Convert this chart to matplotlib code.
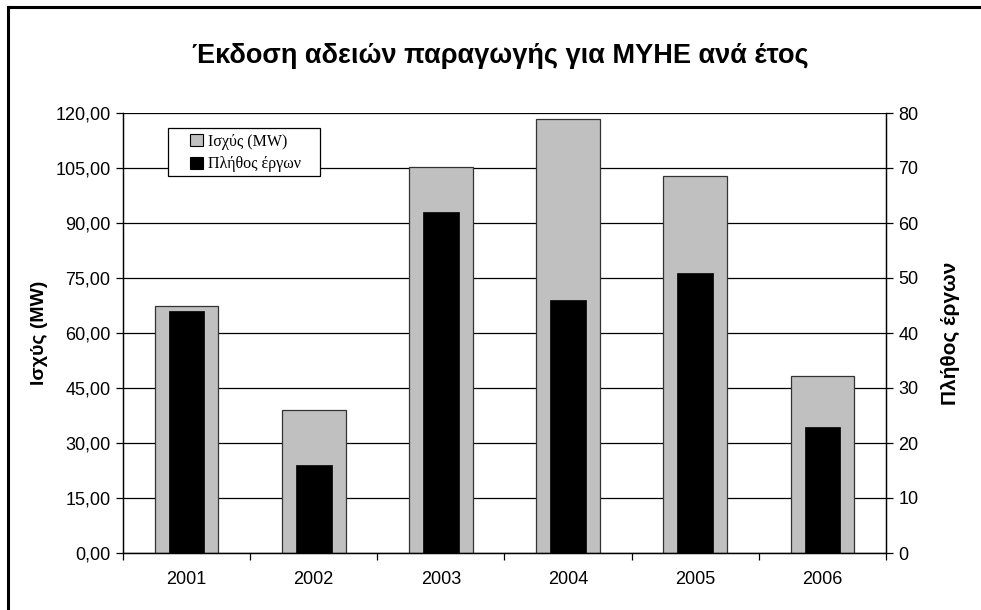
import matplotlib
matplotlib.use("Agg")
import matplotlib.pyplot as plt
from matplotlib.ticker import FuncFormatter, MultipleLocator
from matplotlib.patches import Patch, Rectangle
from matplotlib.lines import Line2D

years = ["2001", "2002", "2003", "2004", "2005", "2006"]
power_mw = [67.4, 39.0, 105.4, 118.4, 102.8, 48.3]
projects = [44, 16, 62, 46, 51, 23]

title = "Έκδοση αδειών παραγωγής για ΜΥΗΕ ανά έτος"
left_label = "Ισχύς (MW)"
right_label = "Πλήθος έργων"

plt.rcParams["font.family"] = ["Liberation Sans", "DejaVu Sans"]

W, H = 981, 610
fig = plt.figure(figsize=(W / 100, H / 100), dpi=100)
ax = fig.add_axes([123 / W, 1 - 553 / H, (886 - 123) / W, (553 - 113) / H])
ax2 = ax.twinx()

x = list(range(len(years)))
ax.bar(x, power_mw, width=0.5, color="#c0c0c0", edgecolor="#333333",
       linewidth=0.9, zorder=2)
ax2.bar(x, projects, width=0.28, color="black", edgecolor="black",
        linewidth=0.5, zorder=3)

ax.set_xlim(-0.5, len(years) - 0.5)
ax.set_ylim(0, 120)
ax2.set_ylim(0, 80)
ax.yaxis.set_major_locator(MultipleLocator(15))
ax2.yaxis.set_major_locator(MultipleLocator(10))
ax.yaxis.set_major_formatter(FuncFormatter(lambda v, p: f"{v:.2f}".replace(".", ",")))
ax2.yaxis.set_major_formatter(FuncFormatter(lambda v, p: f"{int(round(v))}"))

ax.set_axisbelow(True)
ax.grid(axis="y", color="black", linewidth=0.9, zorder=0)
ax.set_xticks([i - 0.5 for i in range(len(years) + 1)])
ax.set_xticklabels([])
ax.set_xticks(x, minor=True)
ax.set_xticklabels(years, minor=True)
ax.tick_params(axis="x", which="major", direction="out", length=5, width=0.9)
ax.tick_params(axis="x", which="minor", length=0, pad=13, labelsize=13)
ax.tick_params(axis="y", direction="out", length=5, width=0.9, labelsize=13, pad=4)
ax2.tick_params(axis="y", direction="out", length=5, width=0.9, labelsize=13, pad=4)

for a in (ax, ax2):
    a.spines["top"].set_visible(False)
    for s in ("left", "right", "bottom"):
        a.spines[s].set_linewidth(0.9)
        a.spines[s].set_color("black")

ax.set_ylabel(left_label, fontsize=14, fontweight="bold", labelpad=5)
ax2.set_ylabel(right_label, fontsize=15, fontweight="bold", rotation=90,
               labelpad=16)

fig.text(500 / W, 1 - 56 / H, title, ha="center", va="center",
         fontsize=19.5, fontweight="bold")

# legend box with white background
lx0, lx1, ly0, ly1 = 168, 320, 128, 176
ax2.add_patch(Rectangle(((lx0 - 123) / 763, (553 - ly1) / 440),
                        (lx1 - lx0) / 763, (ly1 - ly0) / 440,
                        transform=ax2.transAxes, facecolor="white",
                        edgecolor="black", linewidth=0.9, zorder=5,
                        clip_on=False))
handles = [Patch(facecolor="#c0c0c0", edgecolor="black", linewidth=0.8),
           Patch(facecolor="black", edgecolor="black", linewidth=0.8)]
leg = ax2.legend(handles, ["Ισχύς (MW)", "Πλήθος έργων"],
                 loc="center left",
                 bbox_to_anchor=((190 - 123) / 763, (553 - 153) / 440),
                 prop={"family": ["Liberation Serif", "DejaVu Serif"], "size": 11.5},
                 frameon=False, borderpad=0, borderaxespad=0,
                 handlelength=0.8, handleheight=0.8,
                 handletextpad=0.3, labelspacing=0.4)
leg.set_zorder(6)

# outer frame of the chart
fig.add_artist(Line2D([8 / W, 8 / W], [0, 1 - 7 / H], transform=fig.transFigure,
                      color="black", linewidth=2.2))
fig.add_artist(Line2D([8 / W, 1], [1 - 7 / H, 1 - 7 / H], transform=fig.transFigure,
                      color="black", linewidth=2.2))

fig.savefig("out.png", dpi=100)
